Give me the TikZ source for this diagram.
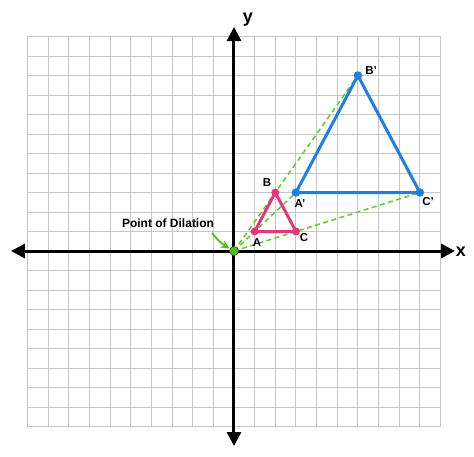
\documentclass[tikz,border=0pt]{standalone}
\usepackage{fontspec}
\setmainfont{Liberation Sans}
\usetikzlibrary{arrows.meta}
\definecolor{gridgray}{HTML}{C6C6C6}
\definecolor{pinkc}{HTML}{E8347A}
\definecolor{bluec}{HTML}{1F7FE0}
\definecolor{greenc}{HTML}{66CC33}
\definecolor{greend}{HTML}{4FBF1F}
\begin{document}
\begin{tikzpicture}[x=20.65pt,y=19.5pt,
  dotp/.style={circle,fill=pinkc,inner sep=0pt,minimum size=8pt},
  dotb/.style={circle,fill=bluec,inner sep=0pt,minimum size=8.5pt},
  lbl/.style={font=\fontsize{11.5}{13}\selectfont\bfseries,inner sep=1pt},
  axis/.style={line width=3pt,-{Triangle[length=14pt,width=14pt]}},
  ray/.style={greenc,line width=1.6pt,dash pattern=on 5pt off 3.5pt}]
\useasboundingbox (-234pt,-205pt) rectangle (240pt,251pt);
\fill[white] (-234pt,-205pt) rectangle (240pt,251pt);
\draw[gridgray,line width=1pt,xstep=20.65pt,ystep=19.5pt] (-10,-9) grid (10,11);
% axes
\coordinate (O) at (0,0);
\coordinate (xl) at (-223pt,0);
\coordinate (xr) at (221pt,0);
\coordinate (yt) at (0,224pt);
\coordinate (yb) at (0,-195pt);
\draw[axis] (O) -- (xr);
\draw[axis] (O) -- (xl);
\draw[axis] (O) -- (yt);
\draw[axis] (O) -- (yb);
\node[font=\fontsize{18}{20}\selectfont\bfseries] (ylab) at (14pt,231pt) {y};
\node[font=\fontsize{18}{20}\selectfont\bfseries] (xlab) at (227pt,-1pt) {x};
% points
\coordinate (A) at (1,1);
\coordinate (B) at (2,3);
\coordinate (C) at (3,1);
\coordinate (A2) at (3,3);
\coordinate (B2) at (6,9);
\coordinate (C2) at (9,3);
% rays
\draw[ray] (O) -- (A2);
\draw[ray] (O) -- (B2);
\draw[ray] (O) -- (C2);
% triangles
\draw[pinkc,line width=3pt,line join=round] (A) -- (B) -- (C) -- cycle;
\draw[bluec,line width=3pt,line join=round] (A2) -- (B2) -- (C2) -- cycle;
\node[dotp] (pA) at (A) {};
\node[dotp] (pB) at (B) {};
\node[dotp] (pC) at (C) {};
\node[dotb] (pA2) at (A2) {};
\node[dotb] (pB2) at (B2) {};
\node[dotb] (pC2) at (C2) {};
% labels
\node[lbl] (lA) at (23pt,8pt) {A};
\node[lbl] (lB) at (33pt,68pt) {B};
\node[lbl] (lC) at (70pt,13pt) {C};
\node[lbl] (lA2) at (66pt,47pt) {A'};
\node[lbl] (lB2) at (137pt,180pt) {B'};
\node[lbl] (lC2) at (194pt,49pt) {C'};
% origin dot
\node[circle,fill=greend,draw=black!70,line width=0.6pt,inner sep=0pt,minimum size=9pt] (pO) at (O) {};
% dilation label
\node[font=\fontsize{12}{14}\selectfont\bfseries,inner sep=1pt] (pd) at (-66pt,28pt) {Point of Dilation};
\coordinate (ps) at (-22pt,18pt);
\draw[greend,line width=1.8pt,-{Stealth[length=9pt,width=8pt]}] (ps) to[bend right=10] (pO);
\end{tikzpicture}
\end{document}
